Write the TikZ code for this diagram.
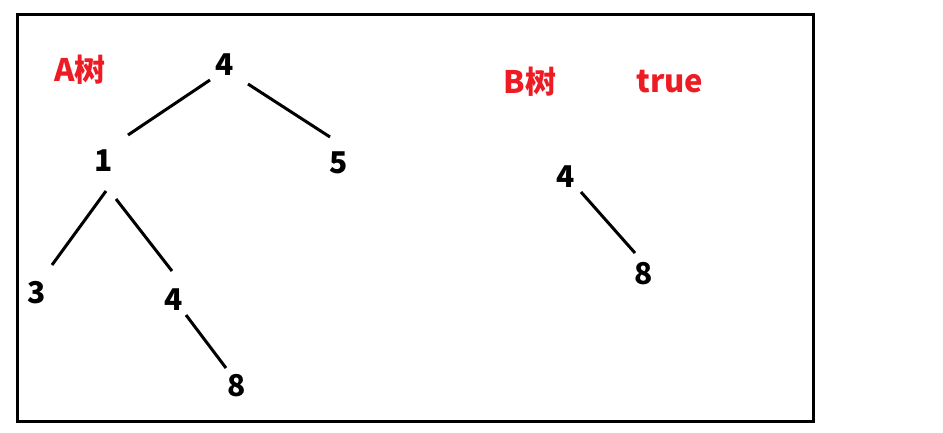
\documentclass[tikz,border=0pt]{standalone}
\usepackage{fontspec}
\setmainfont{Noto Sans CJK SC}
\usepackage{tikz}
\definecolor{treered}{RGB}{237,28,36}

\begin{document}
\begin{tikzpicture}[x=1pt,y=-1pt]
\tikzstyle{every node}=[inner sep=0pt, font=\fontsize{30}{32}\selectfont\bfseries]
\tikzstyle{lbl}=[text=treered, font=\fontsize{31}{33}\selectfont\bfseries]
\tikzstyle{edge}=[line width=3pt]
\useasboundingbox (0,0) rectangle (943,432);
\draw[line width=3pt] (17,14) rectangle (813,421);
% tree A
\draw (80,70) node (la) [lbl] {A树};
\draw (225,65) node (r) {4};
\draw (104,161) node (a) {1};
\draw (339,163) node (b) {5};
\draw (37,293) node (c) {3};
\draw (174,300) node (d) {4};
\draw (237,386) node (e) {8};
\draw[edge] ([shift={(-15,15)}]r.center) -- ([shift={(24,-26)}]a.center);
\draw[edge] ([shift={(23,19)}]r.center) -- ([shift={(-9,-26)}]b.center);
\draw[edge] ([shift={(2,30)}]a.center) -- ([shift={(15,-28)}]c.center);
\draw[edge] ([shift={(12,38)}]a.center) -- ([shift={(-2,-29)}]d.center);
\draw[edge] ([shift={(12,15)}]d.center) -- ([shift={(-11,-18)}]e.center);
% tree B
\draw (530,82) node (lb) [lbl] {B树};
\draw (670,82) node (lt) [lbl] {true};
\draw (566,177) node (f) {4};
\draw (644,274) node (g) {8};
\draw[edge] ([shift={(15,15)}]f.center) -- ([shift={(-9,-21)}]g.center);
\end{tikzpicture}
\end{document}
